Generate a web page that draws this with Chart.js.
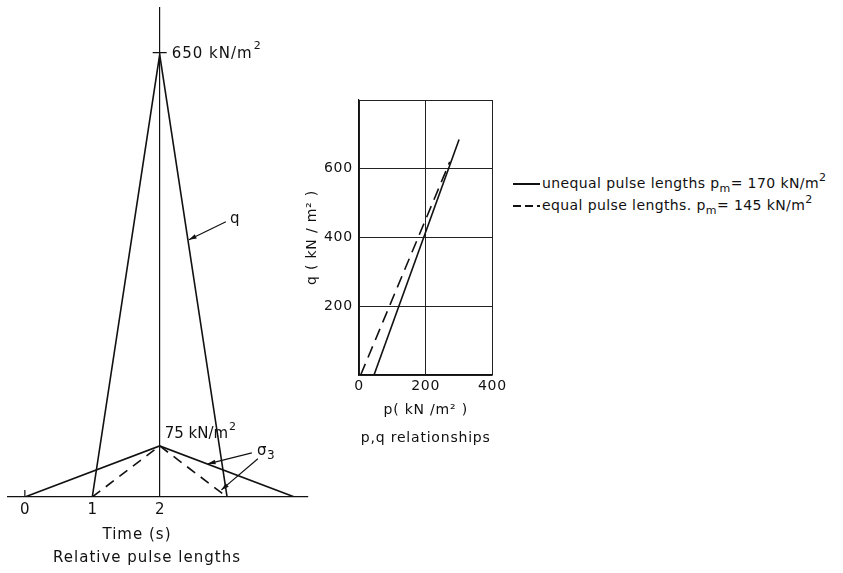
<!DOCTYPE html>
<html lang="en">
<head>
    <meta charset="UTF-8">
    <title>Relative pulse lengths and p,q relationships</title>
    <script src="https://cdn.jsdelivr.net/npm/chart.js"></script>
    <style>
        body {
            margin: 0;
            width: 843px;
            height: 573px;
            background: #fff;
            position: relative;
            overflow: hidden;
            font-family: "DejaVu Sans", sans-serif;
            color: #111;
        }
        #pulseBox { position: absolute; left: 0; top: 0; width: 330px; height: 573px; }
        #pqBox { position: absolute; left: 300px; top: 0; width: 210px; height: 470px; }
        .legend {
            position: absolute;
            left: 513px;
            top: 172px;
            font-size: 14px;
            letter-spacing: 0.4px;
        }
        .legend-row {
            height: 22px;
            line-height: 22px;
            white-space: nowrap;
        }
        .sample {
            display: inline-block;
            width: 27px;
            height: 1.6px;
            margin-right: 2px;
            vertical-align: middle;
            background: #111;
        }
        .sample.dashed {
            background: repeating-linear-gradient(90deg, #111 0 8px, transparent 8px 12px);
        }
        sub { font-size: 11px; vertical-align: -4px; line-height: 0; }
        sup { font-size: 11px; vertical-align: 7px; line-height: 0; }
    </style>
</head>
<body>
    <div id="pulseBox"><canvas id="pulseChart" width="330" height="573"></canvas></div>
    <div id="pqBox"><canvas id="pqChart" width="210" height="470"></canvas></div>
    <div class="legend" id="legend"></div>

    <script>
        // left panel: pulses against time
        const qTime = [1, 2, 3];
        const qValues = [0, 650, 0];
        const s3UnequalTime = [0, 2, 4];
        const s3UnequalValues = [0, 75, 0];
        const s3EqualTime = [1, 2, 3];
        const s3EqualValues = [0, 75, 0];
        const timeTicks = [0, 1, 2];

        // right panel: p,q paths
        const pUnequal = [45, 300];
        const qUnequal = [0, 685];
        const pEqual = [5, 272];
        const qEqual = [0, 620];
        const pTicks = [0, 200, 400];
        const qTicks = [0, 200, 400, 600, 800];

        const seriesNames = ['unequal pulse lengths', 'equal pulse lengths.'];
        const pmValues = [170, 145];

        const INK = '#111';
        const FONT = '"DejaVu Sans", sans-serif';

        function toPoints(xs, ys) {
            return xs.map((x, i) => ({ x: x, y: ys[i] }));
        }

        function arrow(ctx, x1, y1, x2, y2) {
            // leader line from (x1,y1) with a small head at (x2,y2)
            const a = Math.atan2(y2 - y1, x2 - x1);
            ctx.beginPath();
            ctx.moveTo(x1, y1);
            ctx.lineTo(x2, y2);
            ctx.stroke();
            ctx.beginPath();
            ctx.moveTo(x2, y2);
            ctx.lineTo(x2 - 8 * Math.cos(a - 0.3), y2 - 8 * Math.sin(a - 0.3));
            ctx.lineTo(x2 - 8 * Math.cos(a + 0.3), y2 - 8 * Math.sin(a + 0.3));
            ctx.closePath();
            ctx.fill();
        }

        // text with a raised "2" after it
        function unitText(ctx, base, x, y) {
            ctx.font = '15px ' + FONT;
            ctx.fillText(base, x, y);
            const w = ctx.measureText(base).width;
            ctx.font = '11px ' + FONT;
            ctx.fillText('2', x + w + 1, y - 7);
        }

        const spacing = {
            id: 'spacing',
            beforeLayout(chart) { chart.ctx.letterSpacing = '0.8px'; },
            beforeDraw(chart) { chart.ctx.letterSpacing = '0.8px'; }
        };

        const pulseNotes = {
            id: 'pulseNotes',
            afterDraw(chart) {
                const ctx = chart.ctx;
                const xs = chart.scales.x, ys = chart.scales.y;
                const x2 = xs.getPixelForValue(2);
                const y650 = ys.getPixelForValue(650);
                const y75 = ys.getPixelForValue(75);
                const y0 = ys.getPixelForValue(0);
                ctx.save();
                ctx.strokeStyle = INK;
                ctx.fillStyle = INK;
                ctx.lineWidth = 1.2;

                // tick at the peak and at t = 0
                ctx.beginPath();
                ctx.moveTo(x2 - 7, y650 - 2);
                ctx.lineTo(x2 + 7, y650 - 2);
                ctx.moveTo(xs.getPixelForValue(0), y0);
                ctx.lineTo(xs.getPixelForValue(0), y0 - 7);
                ctx.stroke();

                ctx.textBaseline = 'middle';
                ctx.textAlign = 'left';
                ctx.letterSpacing = '1px';
                unitText(ctx, '650 kN/m', x2 + 12, y650 - 1);
                ctx.letterSpacing = '0px';
                unitText(ctx, '75 kN/m', x2 + 5, y75 - 12);

                ctx.font = '15px ' + FONT;
                // q leader
                const tq = 3 - 378 / 650;
                const qx = xs.getPixelForValue(tq), qy = ys.getPixelForValue(378);
                arrow(ctx, qx + 38, qy - 18, qx + 1, qy);
                ctx.fillText('q', qx + 42, qy - 21);

                // sigma 3 leaders
                const ax = xs.getPixelForValue(2.7), ay = ys.getPixelForValue(75 * 1.3 / 2);
                const bx = xs.getPixelForValue(2.9), by = ys.getPixelForValue(7.5);
                arrow(ctx, ax + 45, ay - 11, ax + 1, ay);
                arrow(ctx, ax + 51, ay - 5, bx + 1, by - 2);
                ctx.fillText('σ', ax + 50, ay - 13);
                ctx.font = '12px ' + FONT;
                ctx.fillText('3', ax + 60, ay - 8);

                // axis captions
                ctx.font = '15px ' + FONT;
                ctx.letterSpacing = '1px';
                ctx.textAlign = 'center';
                ctx.fillText('Time (s)', 137, 535);
                ctx.fillText('Relative pulse lengths', 147, 558);
                ctx.restore();
            }
        };

        const lineStyle = {
            showLine: true,
            pointRadius: 0,
            borderColor: INK,
            borderWidth: 1.6,
            fill: false
        };

        new Chart(document.getElementById('pulseChart'), {
            type: 'scatter',
            data: {
                datasets: [
                    { label: 'q', data: toPoints(qTime, qValues), ...lineStyle },
                    { label: 'σ3 unequal', data: toPoints(s3UnequalTime, s3UnequalValues), ...lineStyle },
                    { label: 'σ3 equal', data: toPoints(s3EqualTime, s3EqualValues), ...lineStyle, borderDash: [10, 7] }
                ]
            },
            options: {
                responsive: false,
                animation: false,
                layout: { padding: { left: 8, right: 22, top: 7, bottom: 0 } },
                plugins: { legend: { display: false }, tooltip: { enabled: false } },
                scales: {
                    x: {
                        type: 'linear',
                        min: -0.25,
                        max: 4.2,
                        afterBuildTicks: s => { s.ticks = timeTicks.map(v => ({ value: v })); },
                        afterFit: s => { s.height = 76; },
                        grid: {
                            drawTicks: false,
                            color: c => (c.tick && c.tick.value === 2) ? INK : 'rgba(0,0,0,0)',
                            lineWidth: 1.2
                        },
                        border: { display: true, color: INK, width: 1.2 },
                        ticks: { color: INK, font: { family: FONT, size: 15 }, padding: 4 }
                    },
                    y: { min: 0, max: 720, display: false }
                }
            },
            plugins: [pulseNotes]
        });

        new Chart(document.getElementById('pqChart'), {
            type: 'scatter',
            data: {
                datasets: [
                    { label: seriesNames[0], data: toPoints(pUnequal, qUnequal), ...lineStyle },
                    { label: seriesNames[1], data: toPoints(pEqual, qEqual), ...lineStyle, borderDash: [12, 7] }
                ]
            },
            options: {
                responsive: false,
                animation: false,
                layout: { padding: { left: 0, right: 16, top: 100, bottom: 0 } },
                plugins: { legend: { display: false }, tooltip: { enabled: false } },
                scales: {
                    x: {
                        type: 'linear',
                        min: pTicks[0],
                        max: pTicks[pTicks.length - 1],
                        afterBuildTicks: s => { s.ticks = pTicks.map(v => ({ value: v })); },
                        afterFit: s => { s.height = 95; },
                        grid: { drawTicks: false, color: '#222', lineWidth: 1 },
                        border: { display: true, color: INK, width: 1.2 },
                        ticks: { color: INK, font: { family: FONT, size: 14 }, padding: 3 },
                        title: {
                            display: true,
                            text: ['p( kN /m² )', 'p,q relationships'],
                            color: INK,
                            font: { family: FONT, size: 14, lineHeight: 2 },
                            padding: { top: 0, bottom: 18 }
                        }
                    },
                    y: {
                        min: qTicks[0],
                        max: qTicks[qTicks.length - 1],
                        afterBuildTicks: s => { s.ticks = qTicks.map(v => ({ value: v })); },
                        afterFit: s => { s.width = 59; },
                        grid: { drawTicks: false, color: '#222', lineWidth: 1 },
                        border: { display: true, color: INK, width: 1.2 },
                        ticks: {
                            color: INK,
                            font: { family: FONT, size: 14 },
                            padding: 6,
                            callback: v => (v === 0 || v === 800) ? '' : v
                        },
                        title: {
                            display: true,
                            text: 'q ( kN / m² )',
                            color: INK,
                            font: { family: FONT, size: 14 },
                            padding: { top: 4, bottom: 0 }
                        }
                    }
                }
            },
            plugins: [spacing]
        });

        const legend = document.getElementById('legend');
        seriesNames.forEach((name, i) => {
            const row = document.createElement('div');
            row.className = 'legend-row';
            row.innerHTML = `<span class="sample${i === 1 ? ' dashed' : ''}"></span>${name} p<sub>m</sub>= ${pmValues[i]} kN/m<sup>2</sup>`;
            legend.appendChild(row);
        });
    </script>
</body>
</html>
